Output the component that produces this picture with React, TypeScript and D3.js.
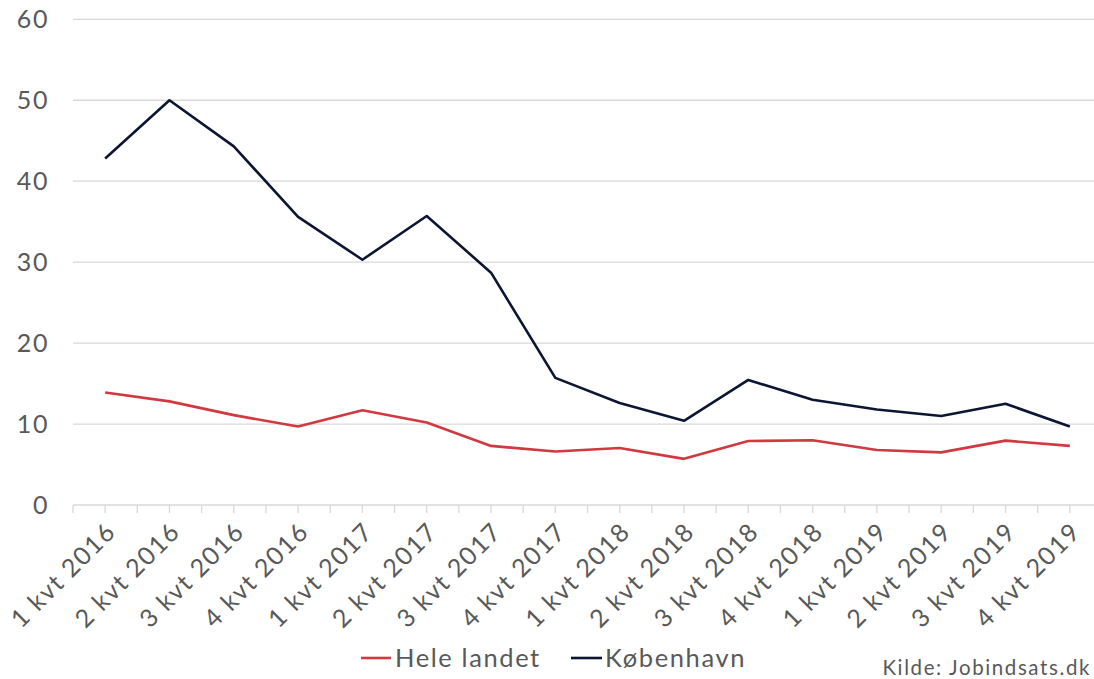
import * as d3 from "d3";

const quarters = [
  "1 kvt 2016", "2 kvt 2016", "3 kvt 2016", "4 kvt 2016",
  "1 kvt 2017", "2 kvt 2017", "3 kvt 2017", "4 kvt 2017",
  "1 kvt 2018", "2 kvt 2018", "3 kvt 2018", "4 kvt 2018",
  "1 kvt 2019", "2 kvt 2019", "3 kvt 2019", "4 kvt 2019",
];
const heleLandet = [13.9, 12.8, 11.1, 9.7, 11.7, 10.2, 7.3, 6.6, 7.05, 5.7, 7.9, 8.0, 6.8, 6.5, 7.95, 7.3];
const koebenhavn = [42.8, 50.0, 44.3, 35.6, 30.3, 35.7, 28.7, 15.7, 12.6, 10.4, 15.45, 13.0, 11.8, 11.0, 12.5, 9.7];
const yTicks = [0, 10, 20, 30, 40, 50, 60];

const series = [
  { name: "Hele landet", values: heleLandet, color: "#d0393f" },
  { name: "København", values: koebenhavn, color: "#0c1633" },
];

const W = 1094;
const H = 679;
const left = 73;
const right = 1102;
const top = 19.3;
const bottom = 505;
const font = "Lato, 'Open Sans', sans-serif";
const textColor = "#595959";
const gridColor = "#d9d9d9";
const spacing = "0.1em";

export default function App() {
  const x = d3.scaleBand<string>().domain(quarters).range([left, right]);
  const y = d3.scaleLinear().domain([0, 60]).range([bottom, top]);
  const cx = (q: string) => (x(q) ?? 0) + x.bandwidth() / 2;

  const line = d3
    .line<number>()
    .x((_, i) => cx(quarters[i]))
    .y((d) => y(d));

  // tick marks at band edges and band centers
  const tickXs: number[] = [];
  quarters.forEach((q) => {
    tickXs.push(x(q) ?? 0);
    tickXs.push(cx(q));
  });

  return (
    <svg
      width={W}
      height={H}
      style={{ position: "absolute", left: 0, top: 0, background: "#fff" }}
      fontFamily={font}
      letterSpacing={spacing}
    >
      {yTicks.map((t) => (
        <g key={t}>
          <line x1={left} x2={right} y1={y(t)} y2={y(t)} stroke={gridColor} strokeWidth={1.3} />
          <text x={49} y={y(t)} dy="0.35em" textAnchor="end" fontSize={25} fill={textColor}>
            {t}
          </text>
        </g>
      ))}
      {tickXs.map((tx, i) => (
        <line key={i} x1={tx} x2={tx} y1={bottom} y2={bottom + 8} stroke={gridColor} strokeWidth={1.3} />
      ))}
      {quarters.map((q) => (
        <text
          key={q}
          transform={`translate(${cx(q) + 6},${bottom + 22}) rotate(-45)`}
          textAnchor="end"
          dy="0.35em"
          fontSize={25}
          fill={textColor}
        >
          {q}
        </text>
      ))}
      {series.map((s) => (
        <path
          key={s.name}
          d={line(s.values) ?? ""}
          fill="none"
          stroke={s.color}
          strokeWidth={2.6}
          strokeLinejoin="round"
        />
      ))}
      <g>
        <line x1={361} x2={391} y1={658} y2={658} stroke={series[0].color} strokeWidth={2.6} />
        <text x={395} y={658} dy="0.35em" fontSize={25.5} fill={textColor}>
          {series[0].name}
        </text>
        <line x1={571} x2={602} y1={658} y2={658} stroke={series[1].color} strokeWidth={2.6} />
        <text x={605} y={658} dy="0.35em" fontSize={25.5} fill={textColor}>
          {series[1].name}
        </text>
      </g>
      <text x={1091} y={668} dy="0.35em" textAnchor="end" fontSize={20.5} fill={textColor}>
        Kilde: Jobindsats.dk
      </text>
    </svg>
  );
}
